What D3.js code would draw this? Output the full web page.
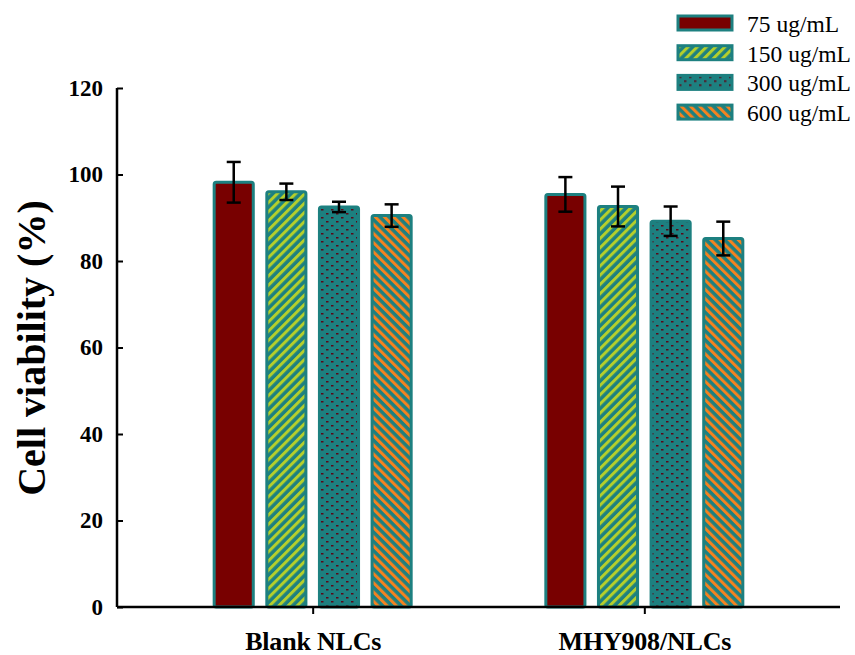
<!DOCTYPE html>
<html>
<head>
<meta charset="utf-8">
<script src="https://cdn.jsdelivr.net/npm/d3@7"></script>
<style>
  body { margin: 0; background: #fff; }
  text { font-family: "Liberation Serif", "Times New Roman", serif; }
</style>
</head>
<body>
<div id="chart"></div>
<script>
// Datos
const groups = ["Blank NLCs", "MHY908/NLCs"];
const doses = ["75 ug/mL", "150 ug/mL", "300 ug/mL", "600 ug/mL"];
const blankMeans = [98.2, 96.0, 92.5, 90.5];
const blankErr = [4.7, 1.9, 1.2, 2.6];
const mhyMeans = [95.4, 92.6, 89.2, 85.2];
const mhyErr = [4.0, 4.6, 3.4, 3.9];
const yTicks = [0, 20, 40, 60, 80, 100, 120];

const width = 855, height = 655;
const margin = { top: 88, right: 15, bottom: 48, left: 117 };

const svg = d3.select("#chart").append("svg")
    .attr("width", width)
    .attr("height", height);

// Patrones de relleno
const teal = "#1d8080";
const defs = svg.append("defs");

function stripes(id, color, angle) {
    const p = defs.append("pattern")
        .attr("id", id)
        .attr("patternUnits", "userSpaceOnUse")
        .attr("width", 6.5).attr("height", 6.5)
        .attr("patternTransform", `rotate(${angle})`);
    p.append("rect").attr("width", 6.5).attr("height", 6.5).attr("fill", teal);
    p.append("rect").attr("x", 0).attr("width", 3).attr("height", 6.5).attr("fill", color);
}
stripes("p150", "#b4cf2c", 45);
stripes("p600", "#f5821f", -45);

const dots = defs.append("pattern")
    .attr("id", "p300")
    .attr("patternUnits", "userSpaceOnUse")
    .attr("width", 10).attr("height", 8);
dots.append("rect").attr("width", 10).attr("height", 8).attr("fill", teal);
[[1, 1, 2.5, 1.5], [6, 5, 2.5, 1.5]].forEach(d => {
    dots.append("rect").attr("x", d[0]).attr("y", d[1]).attr("width", d[2]).attr("height", d[3]).attr("fill", "#5a0818");
});

const fills = ["#780000", "url(#p150)", "url(#p300)", "url(#p600)"];

const data = [];
groups.forEach((g, gi) => {
    const means = gi === 0 ? blankMeans : mhyMeans;
    const errs = gi === 0 ? blankErr : mhyErr;
    doses.forEach((d, di) => data.push({ group: g, dose: d, di: di, value: means[di], err: errs[di] }));
});

const x0 = d3.scalePoint()
    .domain(groups)
    .range([margin.left, width - margin.right])
    .padding(0.59);

const x1 = d3.scaleBand()
    .domain(doses)
    .range([-100, 100])
    .paddingInner(0.2);

const y = d3.scaleLinear()
    .domain([0, 120])
    .range([height - margin.bottom, margin.top]);

// Barras
svg.append("g").selectAll("rect")
    .data(data)
    .enter().append("rect")
    .attr("x", d => x0(d.group) + x1(d.dose) + 1.5)
    .attr("y", d => y(d.value))
    .attr("width", x1.bandwidth() - 3)
    .attr("height", d => y(0) - y(d.value))
    .attr("rx", 2)
    .attr("fill", d => fills[d.di])
    .attr("stroke", teal)
    .attr("stroke-width", 3);

// Barras de error
const eb = svg.append("g").attr("stroke", "#000").attr("stroke-width", 2.5);
data.forEach(d => {
    const cx = x0(d.group) + x1(d.dose) + x1.bandwidth() / 2;
    eb.append("line").attr("x1", cx).attr("x2", cx).attr("y1", y(d.value + d.err)).attr("y2", y(d.value - d.err));
    eb.append("line").attr("x1", cx - 7).attr("x2", cx + 7).attr("y1", y(d.value + d.err)).attr("y2", y(d.value + d.err));
    eb.append("line").attr("x1", cx - 7).attr("x2", cx + 7).attr("y1", y(d.value - d.err)).attr("y2", y(d.value - d.err));
});

// Ejes
const yAxis = svg.append("g")
    .attr("transform", `translate(${margin.left},0)`)
    .call(d3.axisLeft(y).tickValues(yTicks).tickSize(-6).tickPadding(14));
yAxis.select(".domain").attr("stroke-width", 2.5).attr("d", `M0,${y(120)}V${y(0)}`);
yAxis.selectAll(".tick line").attr("stroke-width", 2);
yAxis.selectAll("text")
    .attr("font-size", 23).attr("font-weight", "bold").attr("fill", "#000")
    .style("font-family", "'Liberation Serif', serif");

const xAxis = svg.append("g")
    .attr("transform", `translate(0,${y(0)})`)
    .call(d3.axisBottom(x0).tickSize(7).tickPadding(18));
xAxis.select(".domain").attr("stroke-width", 2.5).attr("d", `M${margin.left},0H${width - margin.right}`);
xAxis.selectAll(".tick line").attr("stroke-width", 2);
xAxis.selectAll("text")
    .attr("font-size", 26).attr("font-weight", "bold").attr("fill", "#000")
    .attr("letter-spacing", -0.2)
    .style("font-family", "'Liberation Serif', serif");

// Título del eje Y
svg.append("text")
    .attr("transform", `translate(45,348) rotate(-90)`)
    .attr("text-anchor", "middle")
    .attr("font-size", 40)
    .attr("font-weight", "bold")
    .text("Cell viability (%)");

// Leyenda
const legend = svg.append("g").attr("transform", "translate(678,16)");
doses.forEach((d, i) => {
    const row = legend.append("g").attr("transform", `translate(0,${i * 29.7})`);
    row.append("rect")
        .attr("width", 54).attr("height", 14)
        .attr("fill", fills[i])
        .attr("stroke", teal).attr("stroke-width", 3);
    row.append("text")
        .attr("x", 69).attr("y", 16)
        .attr("font-size", 23.5)
        .text(d);
});
</script>
</body>
</html>
